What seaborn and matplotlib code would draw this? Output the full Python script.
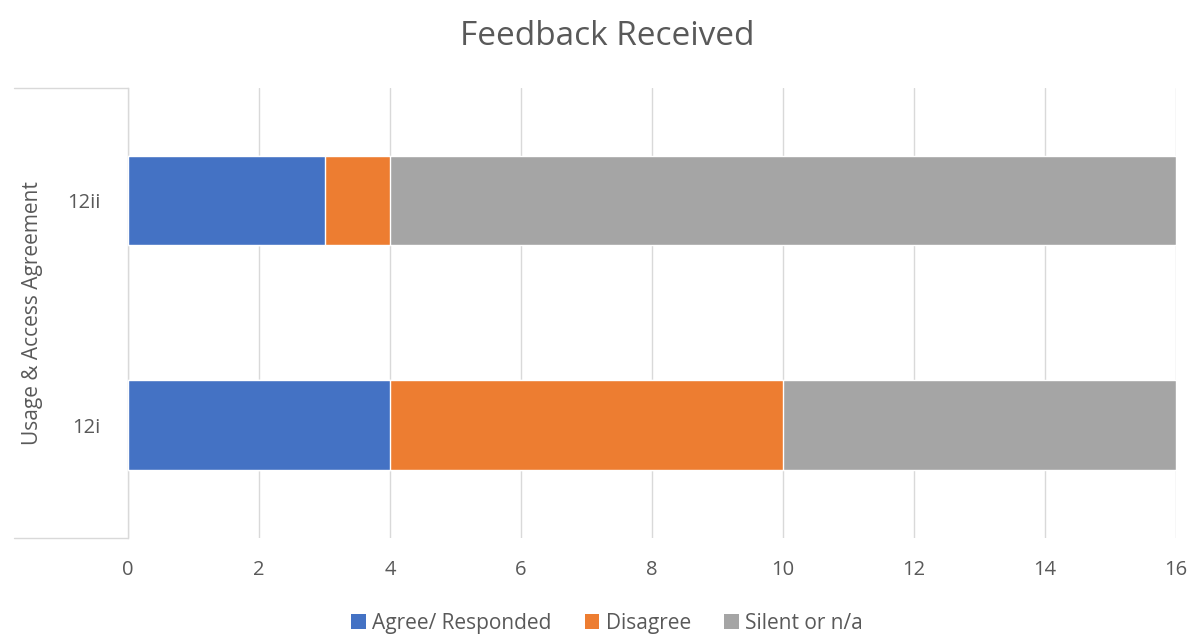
import matplotlib

matplotlib.use("Agg")
import matplotlib.pyplot as plt
import numpy as np
import pandas as pd
import seaborn as sns
from matplotlib.lines import Line2D
from matplotlib.patches import Patch

categories = ["12ii", "12i"]
agree = [3, 4]
disagree = [1, 6]
silent = [12, 6]
series_names = ["Agree/ Responded", "Disagree", "Silent or n/a"]
colors = ["#4472C4", "#ED7D31", "#A5A5A5"]
group_label = "Usage & Access Agreement"
x_ticks = list(range(0, 17, 2))

TEXT = "#595959"
GRID = "#D9D9D9"

sns.set_theme(style="white")
plt.rcParams["font.family"] = ["Open Sans", "DejaVu Sans"]

df = pd.DataFrame(
    {"item": categories, "agree": agree, "disagree": disagree, "silent": silent}
)
df["c1"] = df["agree"]
df["c2"] = df["agree"] + df["disagree"]
df["c3"] = df["c2"] + df["silent"]

fig = plt.figure(figsize=(11.9, 6.35), dpi=100)
ax = fig.add_axes([0.1076, 0.1528, 0.8806, 0.7086])

# stacked by overlaying cumulative totals, widest first
for col, color in zip(["c3", "c2", "c1"], colors[::-1]):
    sns.barplot(
        data=df,
        x=col,
        y="item",
        order=categories,
        color=color,
        width=0.4,
        saturation=1,
        orient="h",
        ax=ax,
        zorder=3,
    )

ax.set_xlim(0, 16)
ax.set_ylim(1.5, -0.5)
ax.set_xticks(x_ticks)
ax.set_xlabel("")
ax.set_ylabel("")
ax.grid(axis="x", color=GRID, linewidth=1, zorder=0)
ax.set_axisbelow(True)
for side in ["top", "right", "bottom"]:
    ax.spines[side].set_visible(False)
ax.spines["left"].set_color(GRID)
ax.spines["left"].set_linewidth(1)
ax.tick_params(axis="x", length=0, pad=16, labelsize=14.5, labelcolor=TEXT)
ax.tick_params(axis="y", length=0, pad=20, labelsize=14.5, labelcolor=TEXT)

# multi-level category bracket
x0 = (14 - 128) / 1048
for yy in [1.0, 0.0]:
    ax.add_line(
        Line2D([x0, 0], [yy, yy], transform=ax.transAxes, color=GRID,
               linewidth=1, clip_on=False)
    )
ax.text(x0 + 0.0175, 0.5, group_label, transform=ax.transAxes, rotation=90,
        ha="center", va="center", fontsize=15, color=TEXT)

fig.suptitle("Feedback Received", x=0.51, y=0.968, fontsize=24, color=TEXT)

handles = [Patch(facecolor=c, edgecolor="none") for c in colors]
fig.legend(
    handles,
    series_names,
    loc="lower center",
    bbox_to_anchor=(0.51, -0.028),
    ncol=3,
    frameon=False,
    fontsize=15,
    labelcolor=TEXT,
    handlelength=0.7,
    handleheight=0.7,
    handletextpad=0.3,
    columnspacing=1.6,
)

fig.savefig("out.png", dpi=100)
